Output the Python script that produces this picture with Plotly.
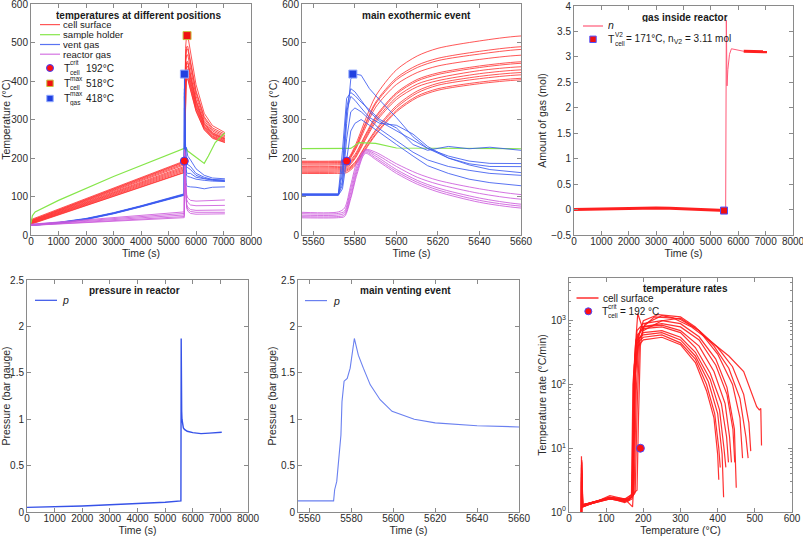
import plotly.graph_objects as go

# ---------------- data ----------------
# cell surface temperatures (12 thermocouples)
cell_time = [0, 5550, 5570, 5576, 5580, 5585, 5590, 5600, 5610, 5620, 5640, 5660, 5700, 5800, 6000, 6300, 6600, 7050]
cell_temp = [
    [40, 192, 192, 195, 231, 299, 361, 429, 465, 485, 504, 517, 518, 474, 391, 316, 284, 266],
    [38, 190, 190, 193, 226, 289, 345, 408, 441, 459, 477, 489, 490, 450, 375, 307, 278, 262],
    [37, 188, 188, 191, 223, 285, 341, 403, 435, 453, 470, 482, 483, 444, 370, 303, 274, 258],
    [36, 185, 185, 188, 219, 278, 332, 391, 422, 439, 456, 467, 468, 431, 361, 297, 270, 255],
    [35, 182, 182, 185, 209, 260, 308, 370, 404, 421, 439, 450, 451, 416, 351, 292, 266, 252],
    [34, 178, 178, 181, 205, 256, 304, 366, 400, 417, 435, 446, 447, 413, 348, 289, 264, 250],
    [33, 175, 175, 178, 201, 251, 298, 358, 392, 408, 427, 437, 438, 405, 343, 287, 262, 249],
    [32, 172, 172, 175, 198, 247, 293, 352, 385, 401, 419, 429, 430, 398, 338, 283, 260, 247],
    [31, 169, 169, 172, 189, 232, 273, 336, 374, 394, 412, 422, 423, 392, 333, 280, 257, 245],
    [30, 166, 166, 169, 186, 229, 269, 331, 369, 389, 406, 416, 417, 387, 329, 278, 255, 243],
    [29, 163, 163, 166, 183, 224, 263, 324, 361, 380, 397, 407, 408, 379, 324, 274, 253, 241],
    [28, 160, 160, 162, 180, 221, 260, 320, 357, 376, 393, 403, 404, 375, 321, 273, 251, 240],
]

# sample holder
holder_time = [0, 50, 150, 1000, 3000, 5550, 5578, 5582, 5590, 5600, 5620, 5660, 5700, 6000, 6300, 6450, 6700, 7050]
holder_temp = [30, 50, 60, 90, 152, 224, 225, 240, 238, 226, 225, 224, 218, 202, 186, 205, 240, 265]

# vent gas
vent_time = [0, 1000, 2000, 3000, 4000, 5000, 5550, 5572, 5574, 5576, 5578, 5580, 5583, 5587, 5592, 5600,
             5608, 5615, 5625, 5635, 5645, 5660, 5700, 5800, 6000, 6300, 6600, 7050]
vent_temp = [
    [26, 32, 42, 57, 75, 95, 106, 106, 140, 290, 405, 418, 415, 380, 350, 305, 255, 225, 200, 182, 170, 162, 160, 160, 150, 146, 144, 143],
    [27, 33, 43, 58, 76, 97, 107, 107, 220, 355, 370, 362, 345, 325, 300, 278, 235, 220, 230, 224, 228, 220, 205, 195, 172, 155, 148, 146],
    [25, 31, 41, 56, 74, 94, 105, 105, 180, 330, 380, 372, 350, 320, 295, 270, 245, 225, 205, 192, 186, 185, 183, 178, 160, 150, 144, 141],
    [26, 32, 42, 57, 75, 95, 104, 104, 160, 320, 360, 350, 330, 305, 290, 285, 262, 230, 200, 185, 178, 176, 175, 170, 155, 147, 142, 140],
    [25, 31, 41, 56, 74, 94, 104, 104, 130, 250, 320, 330, 320, 300, 275, 245, 215, 195, 178, 168, 160, 155, 152, 150, 145, 142, 140, 139],
    [25, 30, 40, 55, 73, 93, 103, 103, 120, 200, 270, 290, 300, 285, 265, 235, 205, 180, 160, 145, 136, 128, 126, 125, 124, 120, 124, 125],
]

# reactor gas
reactor_time = [0, 5550, 5572, 5575, 5578, 5581, 5585, 5590, 5600, 5610, 5620, 5640, 5660, 5700, 5800, 6000, 6300, 7050]
reactor_temp = [
    [28, 60, 60, 70, 130, 190, 222, 215, 185, 160, 142, 120, 105, 96, 90, 88, 89, 91],
    [27, 56, 56, 62, 120, 180, 220, 210, 178, 150, 132, 108, 93, 85, 78, 76, 76, 77],
    [26, 52, 52, 57, 110, 172, 218, 205, 170, 142, 122, 96, 80, 72, 66, 64, 64, 65],
    [25, 48, 48, 52, 100, 165, 215, 200, 165, 137, 117, 90, 75, 67, 61, 59, 59, 59],
    [25, 45, 45, 48, 95, 158, 212, 196, 160, 132, 112, 85, 70, 62, 56, 54, 54, 55],
]

# characteristic points
crit_time = [5576]
crit_temp = [192]
cell_max_time = [5675]
cell_max_temp = [518]
gas_max_time = [5579]
gas_max_temp = [418]

# amount of gas inside reactor
gas_time = [0, 500, 1000, 1500, 2000, 2500, 3000, 3500, 4000, 4500, 5000, 5540, 5565, 5590, 5620,
            5680, 5750, 5850, 6000, 6200, 6400, 6600, 6800, 7050]
gas_amount = [0.0, 0.005, 0.01, 0.02, 0.03, 0.03, 0.03, 0.025, 0.015, 0.005, -0.005, -0.02, 3.72, 2.43, 2.75,
              3.05, 3.16, 3.15, 3.12, 3.11, 3.11, 3.1, 3.1, 3.1]
v2_time = [5480]
v2_amount = [-0.02]

# pressure in reactor
pressure_time = [0, 1000, 2000, 3000, 4000, 5000, 5571.5, 5572, 5573, 5575, 5575.5, 5576.5, 5578, 5579.4,
                 5581.4, 5583.3, 5585.7, 5589, 5593.7, 5599.4, 5610, 5620, 5640, 5660, 5700, 5800, 6000,
                 6300, 6600, 7050]
pressure_value = [0.05, 0.056, 0.065, 0.078, 0.09, 0.105, 0.12, 0.24, 0.33, 0.83, 1.19, 1.41, 1.44, 1.55,
                  1.87, 1.69, 1.55, 1.37, 1.21, 1.085, 1.0, 0.96, 0.93, 0.906, 0.89, 0.87, 0.855, 0.845,
                  0.85, 0.86]

# temperature rates of cell surface (temperature, rate in degC/min)
rate_temp = [
    [33, 33.5, 36, 50, 100, 150, 165, 183, 187, 192, 200, 230, 280, 330, 380, 430, 470, 505, 512, 516, 518],
    [34, 34.5, 37, 60, 110, 160, 178, 184, 190, 205, 250, 300, 350, 400, 440, 470, 484, 489],
    [33, 33.5, 36, 60, 110, 160, 175, 181, 188, 200, 240, 300, 340, 390, 430, 460, 476, 482],
    [34, 34.5, 37, 60, 110, 160, 172, 177, 185, 200, 250, 300, 350, 400, 440, 460, 467],
    [33, 33.5, 36, 60, 110, 150, 170, 176, 183, 200, 250, 300, 350, 395, 425, 445, 450],
    [34, 34.5, 37, 60, 110, 150, 171, 173, 180, 195, 250, 300, 350, 395, 425, 441, 446],
    [33, 33.5, 36, 60, 110, 150, 168, 172, 180, 200, 250, 300, 350, 390, 420, 432, 437],
    [34, 34.5, 37, 60, 110, 150, 170, 176, 184, 200, 250, 300, 340, 380, 410, 424, 429],
    [33, 33.5, 36, 60, 110, 150, 172, 179, 186, 200, 250, 300, 340, 380, 405, 417, 422],
    [34, 34.5, 37, 60, 110, 150, 169, 174, 182, 200, 250, 300, 340, 375, 400, 412, 416],
    [33, 33.5, 36, 60, 110, 150, 170, 175, 184, 200, 250, 300, 340, 370, 392, 403, 407],
    [34, 34.5, 37, 60, 110, 150, 171, 177, 186, 200, 250, 300, 340, 370, 390, 400, 403],
]
rate_value = [
    [1.0, 7.5, 1.3, 1.35, 1.6, 1.55, 1.8, 2.2, 30, 400, 800, 1150, 1100, 800, 480, 280, 160, 45, 40, 42, 11],
    [1.0, 6, 1.25, 1.4, 1.65, 1.5, 2.0, 60, 500, 900, 1200, 1050, 700, 380, 190, 70, 25, 9],
    [1.0, 5, 1.2, 1.35, 1.6, 1.55, 1.9, 80, 600, 1000, 1250, 1150, 800, 400, 180, 60, 15, 7],
    [1.0, 4, 1.3, 1.4, 1.7, 1.6, 1.8, 300, 1300, 700, 1000, 1100, 700, 300, 100, 30, 7],
    [1.0, 3, 1.2, 1.4, 1.7, 1.6, 1.9, 150, 700, 900, 1000, 900, 560, 250, 90, 20, 2.4],
    [1.0, 2.5, 1.25, 1.35, 1.8, 1.6, 1.2, 2, 400, 800, 900, 800, 500, 200, 70, 20, 6],
    [1.0, 5.5, 1.3, 1.4, 1.7, 1.5, 1.7, 100, 500, 800, 850, 700, 400, 160, 50, 15, 6],
    [1.0, 4.5, 1.2, 1.35, 1.65, 1.4, 1.6, 200, 600, 750, 800, 650, 380, 150, 50, 15, 6],
    [1.0, 3.5, 1.3, 1.4, 1.6, 1.45, 1.8, 150, 500, 650, 700, 550, 320, 120, 40, 10, 5],
    [1.0, 6.5, 1.25, 1.35, 1.7, 1.5, 1.7, 150, 500, 600, 650, 500, 280, 110, 35, 8, 1.7],
    [1.0, 4, 1.2, 1.35, 1.6, 1.45, 1.8, 100, 450, 550, 600, 450, 250, 100, 35, 10, 5],
    [1.0, 3, 1.3, 1.4, 1.65, 1.5, 1.75, 120, 400, 500, 550, 420, 220, 80, 30, 8, 3.2],
]
crit_rate_temp = [192]
crit_rate_value = [10]

# ---------------- styling ----------------
W, H = 803, 536
FONT = "Liberation Sans, Arial, Helvetica, sans-serif"
RED = "rgba(255,45,45,0.8)"
GREEN = "#86e64a"
BLUE = "rgba(60,90,240,0.85)"
MAGENTA = "rgba(205,90,220,0.85)"


def px(x):
    return x / W


def py(y):
    return 1 - y / H


fig = go.Figure()


def lines(x, y, xa, ya, color, width=1.0, shape="linear"):
    fig.add_trace(go.Scatter(x=x, y=y, mode="lines", xaxis=xa, yaxis=ya,
                             line=dict(color=color, width=width, shape=shape, smoothing=0.8),
                             hoverinfo="skip", showlegend=False))


def marker(x, y, xa, ya, symbol, fill, edge, size=8):
    fig.add_trace(go.Scatter(x=x, y=y, mode="markers", xaxis=xa, yaxis=ya,
                             marker=dict(symbol=symbol, color=fill, size=size,
                                         line=dict(color=edge, width=1)),
                             hoverinfo="skip", showlegend=False))


# panel 1 and 2: temperatures
for xa, ya, sh, start in (("x", "y", "linear", 0), ("x2", "y2", "spline", 1)):
    for row in cell_temp:
        lines(cell_time[start:], row[start:], xa, ya, RED, 1, sh)
    lines(holder_time, holder_temp, xa, ya, GREEN, 1.2)
    for row in vent_temp:
        lines(vent_time, row, xa, ya, BLUE, 1)
    for row in reactor_temp:
        lines(reactor_time[start:], row[start:], xa, ya, MAGENTA, 1, sh)
    marker(crit_time, crit_temp, xa, ya, "circle", "#ff1010", "#4040ff")
    marker(gas_max_time, gas_max_temp, xa, ya, "square", "#2040e0", "#90a8ff")
    if xa == "x":
        marker(cell_max_time, cell_max_temp, xa, ya, "square", "#f01010", "#c8c040")

# panel 3: gas amount
lines(gas_time, gas_amount, "x3", "y3", "#ff5a78", 1)
noisy_t = [t for t in gas_time if t < 5550]
noisy_v = [v for t, v in zip(gas_time, gas_amount) if t < 5550]
lines(noisy_t, noisy_v, "x3", "y3", "#ff2020", 3)
tail_t = [t for t in gas_time if t > 6100]
tail_v = [v for t, v in zip(gas_time, gas_amount) if t > 6100]
lines(tail_t, tail_v, "x3", "y3", "#ff2020", 3)
marker(v2_time, v2_amount, "x3", "y3", "square", "#f01010", "#5050ff", 7)

# panel 4 and 5: pressure
lines(pressure_time, pressure_value, "x4", "y4", "#3652e8", 1.4)
lines(pressure_time, pressure_value, "x5", "y5", "#6a80f0", 1.1)

# panel 6: rates
for tt, rr in zip(rate_temp, rate_value):
    lines(tt, rr, "x6", "y6", "rgba(255,25,25,0.9)", 1.2)
marker(crit_rate_temp, crit_rate_value, "x6", "y6", "circle", "#ff1010", "#4848ff")

# ---------------- axes ----------------
AX = dict(showline=True, linecolor="#8a8a8a", linewidth=1, mirror="ticks", ticks="inside",
          ticklen=4, tickcolor="#8a8a8a", showgrid=False, zeroline=False, automargin=False,
          ticklabeloverflow="allow",
          tickfont=dict(size=10, color="#2a2a2a", family=FONT))
TITLE_FONT = dict(size=10.5, color="#2a2a2a", family=FONT)


def xax(x0, x1, rng, dtick, anchor, title="Time (s)", **kw):
    d = dict(AX, domain=[px(x0), px(x1)], range=rng, dtick=dtick, anchor=anchor,
             ticklabelstandoff=-3,
             title=dict(text=title, font=TITLE_FONT, standoff=0))
    d.update(kw)
    return d


def yax(y0, y1, rng, dtick, anchor, title, **kw):
    d = dict(AX, domain=[py(y1), py(y0)], range=rng, dtick=dtick, anchor=anchor,
             title=dict(text=title, font=TITLE_FONT, standoff=2))
    d.update(kw)
    return d


layout = dict(
    width=W, height=H, margin=dict(l=0, r=0, t=0, b=0),
    paper_bgcolor="white", plot_bgcolor="white", showlegend=False,
    font=dict(family=FONT, color="#2a2a2a"),
    xaxis=xax(31, 251, [0, 8000], 1000, "y"),
    yaxis=yax(4, 235, [0, 600], 100, "x", "Temperature (°C)"),
    xaxis2=xax(302, 521, [5554.5, 5660], 20, "y2"),
    yaxis2=yax(4, 235, [0, 600], 100, "x2", "Temperature (°C)"),
    xaxis3=xax(574, 793, [0, 8000], 1000, "y3"),
    yaxis3=yax(6, 235, [-0.5, 4], 0.5, "x3", "Amount of gas (mol)"),
    xaxis4=xax(27, 248, [0, 8000], 1000, "y4"),
    yaxis4=yax(280, 512, [0, 2.5], 0.5, "x4", "Pressure (bar gauge)"),
    xaxis5=xax(298, 519, [5554.5, 5660], 20, "y5"),
    yaxis5=yax(280, 512, [0, 2.5], 0.5, "x5", "Pressure (bar gauge)"),
    xaxis6=xax(569, 792, [0, 600], 100, "y6", title="Temperature (°C)"),
    yaxis6=yax(278, 512, [0, 3.67], None, "x6", "Temperature rate (°C/min)",
               type="log", tickmode="array", tickvals=[1, 10, 100, 1000],
               ticktext=["10<sup>0</sup>", "10<sup>1</sup>", "10<sup>2</sup>", "10<sup>3</sup>"],
               minor=dict(ticks="inside", ticklen=2, tickcolor="#8a8a8a", dtick="D1", showgrid=False)),
)
fig.update_layout(**layout)

# ---------------- titles & legends (annotations / shapes) ----------------
anns = []
shapes = []


def text(x, y, t, size=10, anchor="left", bold=False, italic=False, height=None):
    if bold:
        t = "<b>" + t + "</b>"
    if italic:
        t = "<i>" + t + "</i>"
    a = dict(x=px(x), y=py(y), xref="paper", yref="paper", text=t, showarrow=False,
             xanchor=anchor, yanchor="middle", borderpad=0,
             font=dict(size=size, family=FONT, color="#1a1a1a"))
    if height is not None:
        a["height"] = height
    anns.append(a)


def legline(x0, x1, y, color, width=1.2):
    shapes.append(dict(type="line", xref="paper", yref="paper", x0=px(x0), x1=px(x1), y0=py(y), y1=py(y),
                       line=dict(color=color, width=width)))


def legsym(x, y, kind, fill, edge, r=3.5):
    shapes.append(dict(type=kind, xref="paper", yref="paper", xsizemode="pixel", ysizemode="pixel",
                       xanchor=px(x), yanchor=py(y), x0=-r, x1=r, y0=-r, y1=r,
                       fillcolor=fill, line=dict(color=edge, width=1)))


def tsym(x, y, sup, sub, size=10.5):
    text(x, y, "T", size)
    text(x + 6.5, y - 5, sup, 6.5, height=7)
    text(x + 6.5, y + 4.5, sub, 6.5, height=7)


# panel 1
text(138.5, 14.5, "temperatures at different positions", 10, "center", bold=True, height=10)
for yy, lab, col in ((24.6, "cell surface", RED), (34.7, "sample holder", GREEN),
                     (44.5, "vent gas", BLUE), (54.2, "reactor gas", MAGENTA)):
    legline(40, 60, yy, col)
    text(62, yy, lab, 9.6, height=9.2)
legsym(50, 68, "circle", "#ff1010", "#4040ff")
tsym(62.5, 68, "crit", "cell")
text(84.5, 68, "192°C", 10)
legsym(50, 83.3, "rect", "#f01010", "#c8c040", 3.2)
tsym(62.5, 83.3, "max", "cell")
text(84.5, 83.3, "518°C", 10)
legsym(50, 98.5, "rect", "#2040e0", "#90a8ff", 3.2)
tsym(62.5, 98.5, "max", "gas")
text(84.5, 98.5, "418°C", 10)

# panel 2
text(416.5, 15, "main exothermic event", 10, "center", bold=True)

# panel 3
text(685, 17, "gas inside reactor", 10, "center", bold=True, height=10)
legline(583, 603, 26, "#ff5a78")
text(607, 24.5, "n", 10.5, italic=True, height=10)
legsym(593, 39.3, "rect", "#f01010", "#5050ff", 3.2)
tsym(607, 39.3, "V2", "cell")
text(624.5, 39.3, "= 171°C, n<sub>V2</sub> = 3.11 mol", 10)

# panel 4
text(134, 290.7, "pressure in reactor", 10, "center", bold=True)
legline(35, 57, 300.3, "#3652e8")
text(60.5, 300.3, "p", 10.5, italic=True)

# panel 5
text(405.5, 290.7, "main venting event", 10, "center", bold=True)
legline(305, 327, 300.6, "#6a80f0")
text(331.5, 300.6, "p", 10.5, italic=True)

# panel 6
text(685.3, 288, "temperature rates", 10, "center", bold=True)
legline(576.5, 598.5, 298, "#ff2020", 1.4)
text(601.5, 298, "cell surface", 10)
legsym(588.3, 311.3, "circle", "#ff1010", "#4848ff")
tsym(600.5, 311.3, "crit", "cell")
text(618.5, 311.3, "= 192 °C", 10)

fig.update_layout(annotations=anns, shapes=shapes)

fig.write_html("out.html")
